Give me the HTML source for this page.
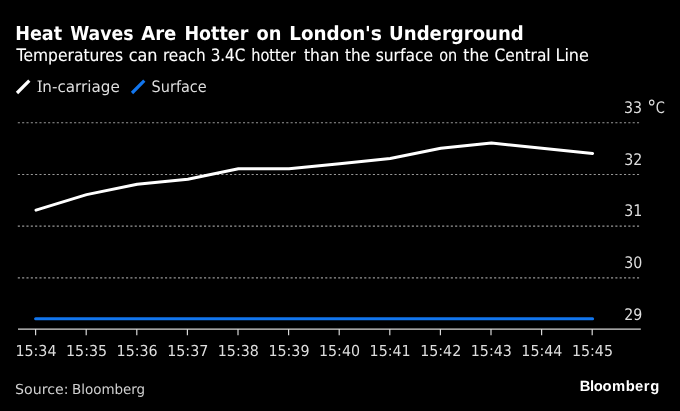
<!DOCTYPE html>
<html><head><meta charset="utf-8"><title>Heat Waves Are Hotter on London's Underground</title>
<style>
html,body{margin:0;padding:0;background:#000;overflow:hidden}
svg{display:block}
text{text-rendering:geometricPrecision}
</style></head>
<body>
<svg width="680" height="411" viewBox="0 0 680 411">
<rect width="680" height="411" fill="#000"/>
<line x1="17" y1="93" x2="29.3" y2="80.7" stroke="#fff" stroke-width="3.2"/>
<line x1="132" y1="93" x2="144.3" y2="80.7" stroke="#1276ee" stroke-width="3.2"/>
<g stroke="#989898" stroke-width="1.15" stroke-dasharray="2.1 2.23">
<line x1="17.8" y1="122.7" x2="640" y2="122.7"/>
<line x1="17.8" y1="174.45" x2="640" y2="174.45"/>
<line x1="17.8" y1="226.15" x2="640" y2="226.15"/>
<line x1="17.8" y1="277.8" x2="640" y2="277.8"/>
</g>
<g stroke="#d8d8d8" stroke-width="1.2">
<line x1="18" y1="329.15" x2="640.8" y2="329.15"/>
<line x1="35.6" y1="329" x2="35.6" y2="335.3"/>
<line x1="86.2" y1="329" x2="86.2" y2="335.3"/>
<line x1="136.8" y1="329" x2="136.8" y2="335.3"/>
<line x1="187.4" y1="329" x2="187.4" y2="335.3"/>
<line x1="238.0" y1="329" x2="238.0" y2="335.3"/>
<line x1="288.6" y1="329" x2="288.6" y2="335.3"/>
<line x1="339.2" y1="329" x2="339.2" y2="335.3"/>
<line x1="389.8" y1="329" x2="389.8" y2="335.3"/>
<line x1="440.4" y1="329" x2="440.4" y2="335.3"/>
<line x1="491.0" y1="329" x2="491.0" y2="335.3"/>
<line x1="541.6" y1="329" x2="541.6" y2="335.3"/>
<line x1="592.2" y1="329" x2="592.2" y2="335.3"/>
</g>
<polyline fill="none" stroke="#fff" stroke-width="3" stroke-linejoin="round" stroke-linecap="round" points="36.0,210.1 86.6,194.6 137.2,184.3 187.8,179.2 238.4,168.8 289.0,168.8 339.6,163.7 390.2,158.5 440.8,148.2 491.4,143.0 542.0,148.2 592.6,153.4"/>
<line x1="35.6" y1="318.8" x2="592.6" y2="318.8" stroke="#1276ee" stroke-width="3" stroke-linecap="round"/>
<g id="title" font-family='"DejaVu Sans","Liberation Sans",sans-serif' font-size="19.3" font-weight="bold" fill="#fff">
<text y="40.4"><tspan x="15.15" textLength="47.01" lengthAdjust="spacingAndGlyphs">Heat</tspan> <tspan x="70.19" textLength="63.31" lengthAdjust="spacingAndGlyphs">Waves</tspan> <tspan x="141.13" textLength="35.20" lengthAdjust="spacingAndGlyphs">Are</tspan> <tspan x="184.41" textLength="63.87" lengthAdjust="spacingAndGlyphs">Hotter</tspan> <tspan x="256.44" textLength="24.93" lengthAdjust="spacingAndGlyphs">on</tspan> <tspan x="289.24" textLength="76.03" lengthAdjust="spacingAndGlyphs">London</tspan><tspan x="365.02" textLength="16.94" lengthAdjust="spacingAndGlyphs">&#39;s</tspan> <tspan x="389.11" textLength="134.69" lengthAdjust="spacingAndGlyphs">Underground</tspan></text>
</g>
<g id="sub" font-family='"DejaVu Sans","Liberation Sans",sans-serif' font-size="17.0" font-weight="normal" fill="#fff" stroke="#fff" stroke-width="0.12">
<text y="61.0"><tspan x="16.61" textLength="106.36" lengthAdjust="spacingAndGlyphs">Temperatures</tspan> <tspan x="128.67" textLength="28.92" lengthAdjust="spacingAndGlyphs">can</tspan> <tspan x="162.90" textLength="42.84" lengthAdjust="spacingAndGlyphs">reach</tspan> <tspan x="210.64" textLength="34.67" lengthAdjust="spacingAndGlyphs">3.4C</tspan> <tspan x="251.22" textLength="44.51" lengthAdjust="spacingAndGlyphs">hotter</tspan> <tspan x="304.04" textLength="35.22" lengthAdjust="spacingAndGlyphs">than</tspan> <tspan x="345.05" textLength="25.01" lengthAdjust="spacingAndGlyphs">the</tspan> <tspan x="375.70" textLength="57.32" lengthAdjust="spacingAndGlyphs">surface</tspan> <tspan x="439.25" textLength="18.07" lengthAdjust="spacingAndGlyphs">on</tspan> <tspan x="463.29" textLength="25.54" lengthAdjust="spacingAndGlyphs">the</tspan> <tspan x="494.59" textLength="56.04" lengthAdjust="spacingAndGlyphs">Central</tspan> <tspan x="555.47" textLength="33.42" lengthAdjust="spacingAndGlyphs">Line</tspan></text>
</g>
<g id="leg" font-family='"DejaVu Sans","Liberation Sans",sans-serif' font-size="15.7" font-weight="normal" fill="#dedede">
<text transform="translate(151.58 91.8) scale(0.9224 1)">Surface</text>
</g>
<g id="leg1" font-family='"DejaVu Sans","Liberation Sans",sans-serif' font-size="15.7" font-weight="normal" fill="#dedede">
<text transform="translate(0 91.8) scale(0.9669 1)"><tspan x="38.04" y="0" font-family='"DejaVu Serif","Liberation Serif",serif' font-size="15.7">I</tspan><tspan x="43.82" y="0" font-family='"DejaVu Sans","Liberation Sans",sans-serif' font-size="15.7">n-carriage</tspan></text>
</g>
<g id="ylab" font-family='"DejaVu Sans Condensed","DejaVu Sans","Liberation Sans",sans-serif' font-size="16" font-weight="normal" fill="#dedede">
<text transform="translate(624.09 112.6) scale(0.9850 1)">33</text>
</g>
<g id="deg" font-family='"DejaVu Sans Condensed","DejaVu Sans","Liberation Sans",sans-serif' font-size="16" font-weight="normal" fill="#dedede">
<text transform="translate(0 112.6) scale(0.9059 1)"><tspan x="714.47" y="1.7" font-family='"DejaVu Sans","Liberation Sans",sans-serif' font-size="19.6">°</tspan><tspan x="723.85" y="0" font-family='"DejaVu Sans Condensed","DejaVu Sans","Liberation Sans",sans-serif' font-size="16">C</tspan></text>
</g>
<g id="y32" font-family='"DejaVu Sans Condensed","DejaVu Sans","Liberation Sans",sans-serif' font-size="16" font-weight="normal" fill="#dedede">
<text transform="translate(624.19 165) scale(0.9850 1)">32</text>
</g>
<g id="y31" font-family='"DejaVu Sans Condensed","DejaVu Sans","Liberation Sans",sans-serif' font-size="16" font-weight="normal" fill="#dedede">
<text transform="translate(624.19 216.3) scale(0.9850 1)">31</text>
</g>
<g id="y30" font-family='"DejaVu Sans Condensed","DejaVu Sans","Liberation Sans",sans-serif' font-size="16" font-weight="normal" fill="#dedede">
<text transform="translate(624.19 267.9) scale(0.9850 1)">30</text>
</g>
<g id="y29" font-family='"DejaVu Sans Condensed","DejaVu Sans","Liberation Sans",sans-serif' font-size="16" font-weight="normal" fill="#dedede">
<text transform="translate(624.31 319.5) scale(0.9850 1)">29</text>
</g>
<g id="xlab" font-family='"DejaVu Sans Condensed","DejaVu Sans","Liberation Sans",sans-serif' font-size="15.1" font-weight="normal" fill="#dedede">
<text transform="translate(15.43 356) scale(1.0500 1)">15:34</text>
<text transform="translate(66.02 356) scale(1.0500 1)">15:35</text>
<text transform="translate(116.61 356) scale(1.0500 1)">15:36</text>
<text transform="translate(167.20 356) scale(1.0500 1)">15:37</text>
<text transform="translate(217.79 356) scale(1.0500 1)">15:38</text>
<text transform="translate(268.38 356) scale(1.0500 1)">15:39</text>
<text transform="translate(318.97 356) scale(1.0500 1)">15:40</text>
<text transform="translate(369.56 356) scale(1.0500 1)">15:41</text>
<text transform="translate(420.15 356) scale(1.0500 1)">15:42</text>
<text transform="translate(470.74 356) scale(1.0500 1)">15:43</text>
<text transform="translate(521.33 356) scale(1.0500 1)">15:44</text>
<text transform="translate(571.91 356) scale(1.0500 1)">15:45</text>
</g>
<g id="src" font-family='"DejaVu Sans","Liberation Sans",sans-serif' font-size="13.8" font-weight="normal" fill="#d0d0d0">
<text y="393.6"><tspan x="15.10" textLength="53.52" lengthAdjust="spacingAndGlyphs">Source:</tspan> <tspan x="71.96" textLength="73.22" lengthAdjust="spacingAndGlyphs">Bloomberg</tspan></text>
</g>
<g id="logo" font-family='"Liberation Sans",sans-serif' font-size="14.8" font-weight="bold" fill="#fff">
<text transform="translate(0 390.8) scale(1 1)" x="579.78 589.91 593.74 602.54 612.00 625.65 634.99 643.75 650.19">Bloomberg</text>
</g>
</svg>
</body></html>
